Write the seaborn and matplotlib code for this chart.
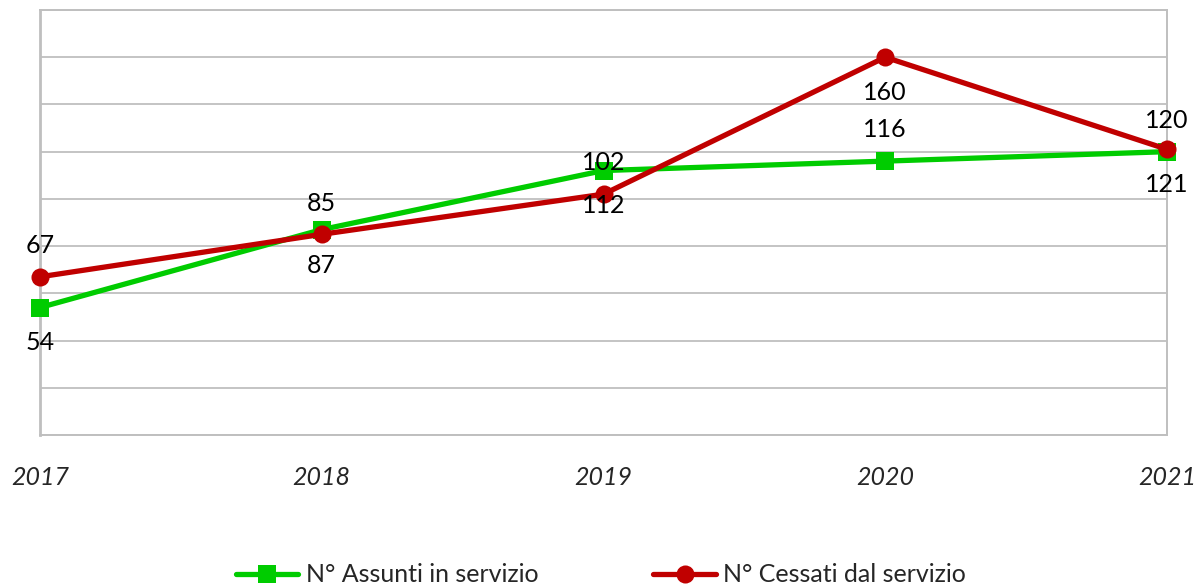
import numpy as np
import pandas as pd
import matplotlib
matplotlib.use("Agg")
import matplotlib.pyplot as plt
import seaborn as sns

years = ["2017", "2018", "2019", "2020", "2021"]
assunti = [54, 87, 112, 116, 120]
cessati = [67, 85, 102, 160, 121]
series_names = ["N° Assunti in servizio", "N° Cessati dal servizio"]

sns.set_theme(style="white")
plt.rcParams['font.family'] = ['Lato', 'DejaVu Sans']

GREEN = "#00CC00"
RED = "#C00000"
GRID = "#BFBFBF"

df = pd.DataFrame({
    "pos": list(range(len(years))) * 2,
    "value": assunti + cessati,
    "serie": [series_names[0]] * len(years) + [series_names[1]] * len(years),
})

fig = plt.figure(figsize=(12.02, 5.88), dpi=100)
ax = fig.add_axes([40 / 1202, 1 - 435 / 588, 1127 / 1202, 425 / 588])

sns.lineplot(data=df, x="pos", y="value", hue="serie", style="serie",
             palette=[GREEN, RED], markers=["s", "o"], dashes=False,
             linewidth=3.8, markersize=13, markeredgewidth=0,
             ax=ax, legend=True, clip_on=False, zorder=3)

# data labels: above (+1) or below (-1) the point
label_side = {
    series_names[0]: [-1, -1, -1, 1, 1],
    series_names[1]: [1, 1, 1, -1, -1],
}
for name, vals in zip(series_names, [assunti, cessati]):
    for i, v in enumerate(vals):
        dy = 22.5 if label_side[name][i] > 0 else -25.5
        ax.annotate(str(v), (i, v), xytext=(0, dy),
                    textcoords="offset points", ha="center", va="center",
                    fontsize=18, color="black", zorder=5)

ax.set_xlim(0, len(years) - 1)
ax.set_ylim(0, 180)
ax.set_yticks(np.arange(0, 181, 20))
ax.set_yticklabels([])
ax.set_xticks(range(len(years)))
ax.set_xticklabels(years, fontsize=18, style="italic")
ax.tick_params(axis="x", length=0, pad=22)
ax.tick_params(axis="y", length=0)
ax.grid(axis="y", color=GRID, linewidth=1.3)
ax.set_xlabel("")
ax.set_ylabel("")
for side, sp in ax.spines.items():
    sp.set_color(GRID)
    sp.set_linewidth(1.4)
ax.spines["left"].set_linewidth(2)

handles, labels = ax.get_legend_handles_labels()
ax.legend(handles, labels, loc="center", bbox_to_anchor=(0.5, 1 - 575 / 588),
          bbox_transform=fig.transFigure, ncol=2, frameon=False,
          fontsize=18, handlelength=2.5, columnspacing=4.6, handletextpad=0.3)

fig.savefig("out.png", dpi=100)
